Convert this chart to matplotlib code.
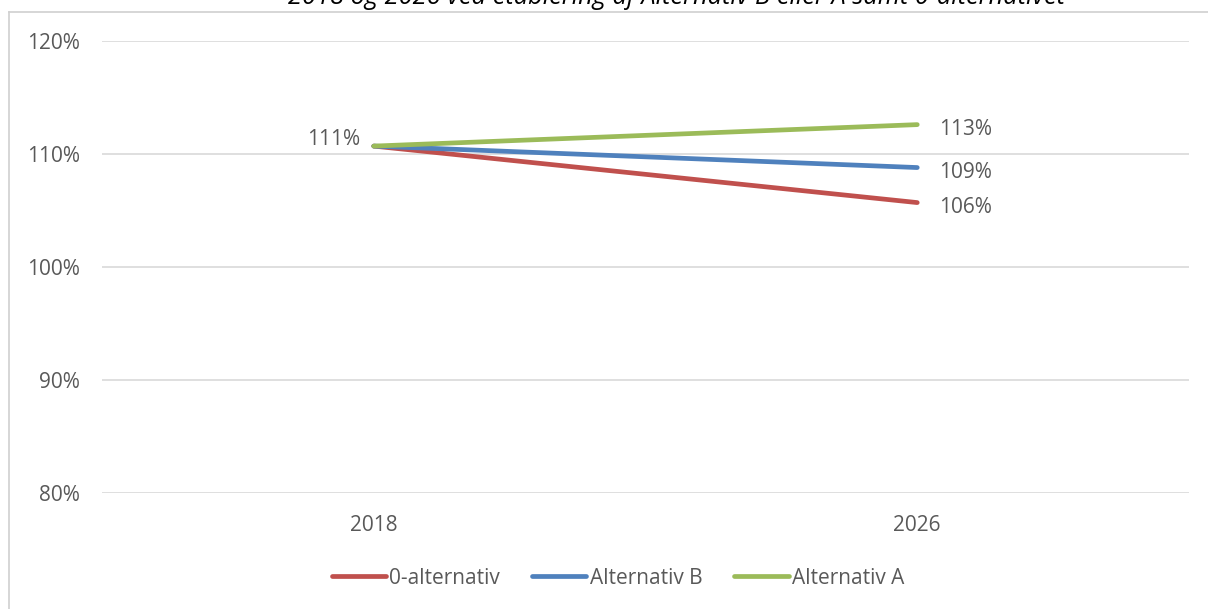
import matplotlib
matplotlib.use("Agg")
import matplotlib.pyplot as plt
from matplotlib.lines import Line2D

# Data
years = ["2018", "2026"]
series_names = ["0-alternativ", "Alternativ B", "Alternativ A"]
nul_alternativ = [110.7, 105.7]
alternativ_b = [110.7, 108.8]
alternativ_a = [110.7, 112.6]
y_ticks = [80, 90, 100, 110, 120]

colors = ["#C0504D", "#4F81BD", "#9BBB59"]
text_color = "#595959"
grid_color = "#D9D9D9"
fs = 15

plt.rcParams["font.family"] = ["Open Sans", "DejaVu Sans"]

W, H = 1208, 609
fig = plt.figure(figsize=(W / 100, H / 100), dpi=100)
ax = fig.add_axes([102 / W, 1 - 493 / H, (1189 - 102) / W, (493 - 41) / H])

x = list(range(len(years)))
for vals, name, col in zip([nul_alternativ, alternativ_b, alternativ_a], series_names, colors):
    ax.plot(x, vals, color=col, lw=3.4, solid_capstyle="round", label=name, zorder=3)

# Data labels: start value once on the left, end values on the right
ax.annotate(f"{round(alternativ_a[0])}%", (x[0], alternativ_a[0]), xytext=(-10, 5),
            textcoords="offset points", ha="right", va="center", fontsize=fs, color=text_color)
for vals in [alternativ_a, alternativ_b, nul_alternativ]:
    ax.annotate(f"{round(vals[-1])}%", (x[-1], vals[-1]), xytext=(16, -3.5),
                textcoords="offset points", ha="left", va="center", fontsize=fs, color=text_color)

ax.set_xlim(-0.5, 1.5)
ax.set_ylim(80, 120)
ax.set_yticks(y_ticks)
ax.set_yticklabels([f"{t}%" for t in y_ticks])
ax.set_xticks(x)
ax.set_xticklabels(years)
ax.tick_params(axis="both", length=0, labelsize=fs, labelcolor=text_color)
ax.tick_params(axis="y", pad=16)
ax.tick_params(axis="x", pad=16)
ax.grid(axis="y", color=grid_color, lw=1.2, zorder=0)
for s in ax.spines.values():
    s.set_visible(False)

leg = fig.legend(loc="center", bbox_to_anchor=(618 / W, 1 - 578 / H), ncol=3, frameon=False,
                 fontsize=fs, handlelength=2.6, handletextpad=0.15, columnspacing=1.55)
for t in leg.get_texts():
    t.set_color(text_color)
for h in leg.get_lines():
    h.set_linewidth(3.4)
    h.set_solid_capstyle("round")

# Chart frame (left and top edges)
fx, fy = 8.5 / W, 1 - 11.5 / H
fig.add_artist(Line2D([fx, fx], [0, fy], color="#D0D0D0", lw=1.2, transform=fig.transFigure))
fig.add_artist(Line2D([fx, 1], [fy, fy], color="#D0D0D0", lw=1.2, transform=fig.transFigure))

# Chart title (upper part runs past the top edge)
fig.text(677 / W, 1 - 10 / H, "2018 og 2026 ved etablering af Alternativ B eller A samt 0-alternativet",
         ha="center", va="bottom", fontsize=18.3, style="italic", color="#000000")

fig.savefig("out.png", dpi=100)
